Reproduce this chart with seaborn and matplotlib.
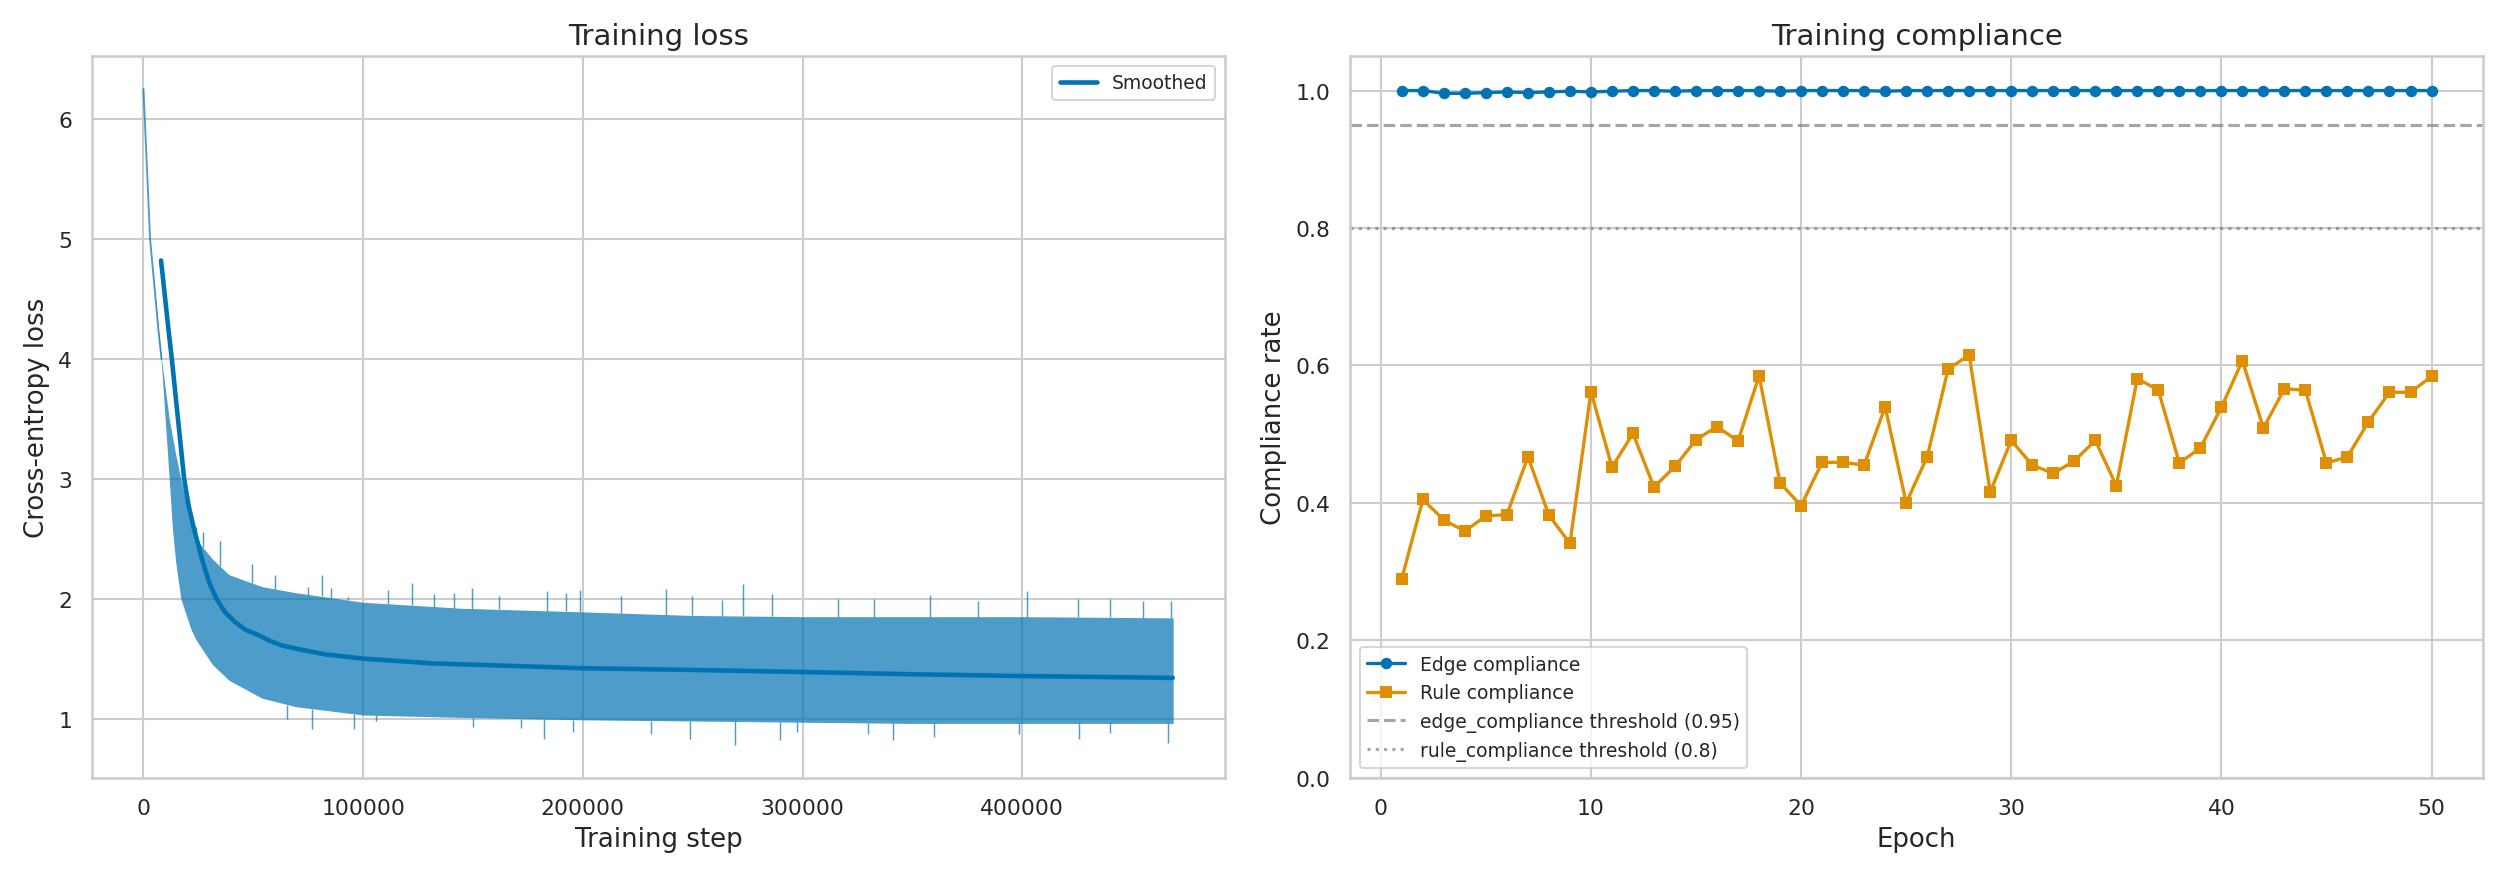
import numpy as np
import pandas as pd
import matplotlib
matplotlib.use("Agg")
import matplotlib.pyplot as plt
import seaborn as sns

# ------------------------
# data
# ------------------------

# raw loss band (envelope of the noisy per-step loss)
raw_steps = [0, 3000, 6800, 8200, 11700, 13200, 14700, 17000, 21500, 23800, 31400,
             38900, 54000, 69200, 100000, 145000, 200000, 250000, 300000, 350000,
             400000, 468700]
raw_upper = [6.25, 5.0, 4.24, 4.0, 3.5, 3.35, 3.2, 3.0, 2.62, 2.5, 2.33,
             2.2, 2.1, 2.05, 1.97, 1.92, 1.89, 1.86, 1.85, 1.85, 1.85, 1.84]
raw_lower = [6.25, 5.0, 4.2, 3.95, 3.0, 2.58, 2.3, 2.0, 1.75, 1.66, 1.45,
             1.32, 1.17, 1.1, 1.03, 1.01, 0.99, 0.98, 0.97, 0.96, 0.96, 0.96]

# biggest single-step spikes
spike_up_steps = [24000, 27000, 34700, 49600, 60000, 75100, 81200, 85300, 93300,
                  111100, 122200, 132400, 141500, 149500, 161700, 183600, 192400,
                  198800, 217200, 238000, 249800, 263500, 272900, 285900, 316000,
                  332500, 358000, 380000, 402000, 425500, 440000, 455000, 467500]
spike_up_vals = [2.60, 2.56, 2.48, 2.29, 2.2, 2.10, 2.20, 2.09, 2.01,
                 2.07, 2.13, 2.04, 2.05, 2.09, 2.02, 2.06, 2.05,
                 2.07, 2.02, 2.08, 2.02, 1.99, 2.12, 2.04, 2.00,
                 2.00, 2.03, 1.98, 2.06, 2.00, 2.0, 1.98, 1.98]
spike_dn_steps = [65500, 76900, 95900, 105800, 150000, 171900, 182500, 195400, 231200,
                  248600, 269100, 289700, 297300, 330000, 341000, 360000, 398500,
                  426000, 440000, 466500]
spike_dn_vals = [1.0, 0.91, 0.91, 0.98, 0.93, 0.92, 0.83, 0.89, 0.87,
                 0.83, 0.78, 0.82, 0.89, 0.87, 0.82, 0.85, 0.87,
                 0.83, 0.88, 0.80]

# smoothed loss
smooth_steps = [8000, 11400, 12900, 15700, 18500, 20500, 23000, 27100, 30000, 33200,
                37000, 42000, 46500, 52000, 57300, 63000, 69000, 76000, 83000, 100000,
                132000, 167000, 200000, 237000, 297000, 350000, 400000, 468500]
smooth_loss = [4.82, 4.24, 4.0, 3.5, 3.0, 2.78, 2.58, 2.3, 2.13, 2.0,
               1.89, 1.80, 1.74, 1.70, 1.65, 1.61, 1.585, 1.56, 1.535, 1.50,
               1.46, 1.44, 1.42, 1.41, 1.39, 1.37, 1.355, 1.34]

# compliance per epoch
epochs = list(range(1, 51))
edge_compliance = [1.0, 1.0, 0.996, 0.996, 0.997, 0.998, 0.997, 0.998, 0.999, 0.998,
                   0.999, 1.0, 1.0, 0.999, 1.0, 1.0, 1.0, 1.0, 0.999, 1.0,
                   1.0, 1.0, 1.0, 0.999, 1.0, 1.0, 1.0, 1.0, 1.0, 1.0,
                   1.0, 1.0, 1.0, 1.0, 1.0, 1.0, 1.0, 1.0, 1.0, 1.0,
                   1.0, 1.0, 1.0, 1.0, 1.0, 1.0, 1.0, 1.0, 1.0, 1.0]
rule_compliance = [0.290, 0.405, 0.375, 0.359, 0.381, 0.383, 0.467, 0.382, 0.341, 0.562,
                   0.452, 0.501, 0.423, 0.453, 0.492, 0.511, 0.490, 0.585, 0.429, 0.396,
                   0.459, 0.459, 0.455, 0.540, 0.400, 0.467, 0.595, 0.615, 0.416, 0.491,
                   0.455, 0.443, 0.461, 0.491, 0.425, 0.581, 0.564, 0.458, 0.480, 0.539,
                   0.607, 0.509, 0.566, 0.564, 0.458, 0.467, 0.518, 0.561, 0.561, 0.584]
edge_threshold = 0.95
rule_threshold = 0.8

# ------------------------
# plotting
# ------------------------
sns.set_theme(style="whitegrid", palette="colorblind")
plt.rcParams['font.family'] = ['DejaVu Sans']
plt.rcParams['xtick.labelsize'] = 10.5
plt.rcParams['ytick.labelsize'] = 10.5
plt.rcParams['axes.labelsize'] = 12.5
plt.rcParams['axes.titlesize'] = 14

pal = sns.color_palette("colorblind")
blue, orange = pal[0], pal[1]

fig, (ax1, ax2) = plt.subplots(1, 2, figsize=(2500 / 150, 880 / 150), dpi=150)
fig.subplots_adjust(left=0.0368, right=0.9932, bottom=0.115, top=0.935, wspace=0.111)

# left: training loss
ax1.fill_between(raw_steps, raw_lower, raw_upper, color=blue, alpha=0.7, lw=0)
ax1.plot(raw_steps[:4], raw_upper[:4], color=blue, alpha=0.7, lw=0.9)
ax1.vlines(spike_up_steps, np.interp(spike_up_steps, raw_steps, raw_upper), spike_up_vals,
           color=blue, alpha=0.7, lw=0.7)
ax1.vlines(spike_dn_steps, spike_dn_vals, np.interp(spike_dn_steps, raw_steps, raw_lower),
           color=blue, alpha=0.7, lw=0.7)
sns.lineplot(x=smooth_steps, y=smooth_loss, ax=ax1, color=blue, lw=2.2, label="Smoothed")
ax1.set_title("Training loss")
ax1.set_xlabel("Training step")
ax1.set_ylabel("Cross-entropy loss")
ax1.set_xticks([0, 100000, 200000, 300000, 400000])
ax1.legend(loc="upper right", fontsize=9)

# right: compliance
df = pd.DataFrame({"epoch": epochs, "edge": edge_compliance, "rule": rule_compliance})
sns.lineplot(data=df, x="epoch", y="edge", ax=ax2, color=blue, marker="o", markersize=5.5,
             markeredgewidth=0, lw=1.6, label="Edge compliance")
sns.lineplot(data=df, x="epoch", y="rule", ax=ax2, color=orange, marker="s", markersize=5.5,
             markeredgewidth=0, lw=1.6, label="Rule compliance")
ax2.axhline(edge_threshold, color="gray", ls="--", lw=1.5, alpha=0.7,
            label=f"edge_compliance threshold ({edge_threshold})")
ax2.axhline(rule_threshold, color="gray", ls=":", lw=1.5, alpha=0.7,
            label=f"rule_compliance threshold ({rule_threshold})")
ax2.set_ylim(0, 1.05)
ax2.set_title("Training compliance")
ax2.set_xlabel("Epoch")
ax2.set_ylabel("Compliance rate")
ax2.legend(loc="lower left", fontsize=9)

fig.savefig("out.png", dpi=150)
